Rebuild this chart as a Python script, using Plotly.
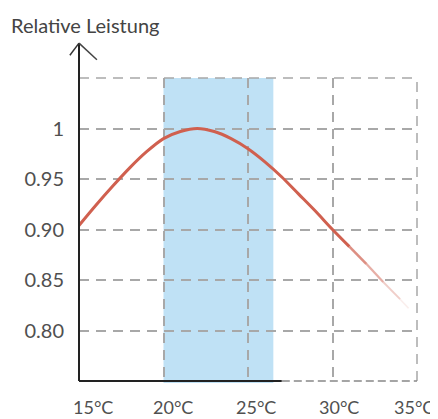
import plotly.graph_objects as go

# Data
temps = [15, 16, 17, 18, 19, 20, 21, 22, 23, 24, 25, 26, 27, 28, 29, 30, 31, 32, 33, 34, 34.5]
perf = [0.904, 0.924, 0.943, 0.961, 0.977, 0.990, 0.997, 1.0, 0.997, 0.990, 0.980, 0.967, 0.952, 0.935, 0.918, 0.900, 0.883, 0.866, 0.848, 0.831, 0.822]
band = [20, 26.5]
x_ticks = [15, 20, 25, 30, 35]
x_labels = ["15°C", "20°C", "25°C", "30°C", "35°C"]
y_ticks = [0.80, 0.85, 0.90, 0.95, 1.0]
y_labels = ["0.80", "0.85", "0.90", "0.95", "1"]
title = "Relative Leistung"

# layout-only: horizontal offsets (px) of the x tick labels, as in the hand-drawn original
x_label_shift = [14, 9, 8, 6, -3]

FONT = "Lato"
TXT = "#505050"
RED = "#d0604f"
GRID = "#a8a8a8"

fig = go.Figure()

# Curve: solid part, then fading segments
fade_start = 16  # index where fading begins
fig.add_trace(go.Scatter(x=temps[:fade_start + 1], y=perf[:fade_start + 1], mode="lines",
                         line=dict(color=RED, width=3, shape="spline", smoothing=0.8),
                         hoverinfo="skip", showlegend=False))
n_fade = len(temps) - 1 - fade_start
for k in range(n_fade):
    i = fade_start + k
    op = 0.9 - 0.8 * (k + 1) / n_fade
    fig.add_trace(go.Scatter(x=temps[i:i + 2], y=perf[i:i + 2], mode="lines",
                             line=dict(color=RED, width=2.6 - 1.4 * k / n_fade),
                             opacity=max(op, 0.1), hoverinfo="skip", showlegend=False))

shapes = []
# Comfort band
shapes.append(dict(type="rect", xref="x", yref="paper", x0=band[0], x1=band[1], y0=-0.007, y1=1.0,
                   fillcolor="#bfe1f5", line=dict(width=0), layer="below"))
# Top and right dashed borders
shapes.append(dict(type="line", xref="paper", yref="paper", x0=0, x1=1, y0=1, y1=1,
                   line=dict(color=GRID, width=1.5, dash="10px,7px"), layer="below"))
shapes.append(dict(type="line", xref="paper", yref="paper", x0=1, x1=1, y0=0, y1=1,
                   line=dict(color=GRID, width=1.5, dash="10px,7px"), layer="below"))
# x axis: solid black then dashed grey
shapes.append(dict(type="line", xref="x", yref="paper", x0=15, x1=27, y0=0, y1=0,
                   line=dict(color="#222222", width=2)))
shapes.append(dict(type="line", xref="x", yref="paper", x0=27, x1=35, y0=0, y1=0,
                   line=dict(color="#888888", width=1.5, dash="8px,4px")))
# y axis with arrow
shapes.append(dict(type="line", xref="paper", yref="paper", x0=0, x1=0, y0=0, y1=1.115,
                   line=dict(color="#222222", width=2)))
shapes.append(dict(type="line", xref="paper", yref="paper", x0=0, x1=-0.027, y0=1.115, y1=1.075,
                   line=dict(color="#333333", width=1.5)))
shapes.append(dict(type="line", xref="paper", yref="paper", x0=0, x1=0.053, y0=1.115, y1=1.06,
                   line=dict(color="#444444", width=1.5)))

annotations = [dict(text=title, xref="paper", yref="paper", x=-0.207, y=1.175,
                    xanchor="left", yanchor="middle", showarrow=False,
                    font=dict(family=FONT, size=20, color="#444444"))]
for xv, lab, dx in zip(x_ticks, x_labels, x_label_shift):
    annotations.append(dict(text=lab, xref="x", yref="paper", x=xv, y=0,
                            xanchor="center", yanchor="top", xshift=dx, yshift=-13,
                            showarrow=False, font=dict(family=FONT, size=18, color=TXT)))

# the page body has an 8px default margin, so the figure is sized to fit the window
fig.update_layout(
    width=430, height=411,
    margin=dict(l=71, r=21, t=70, b=38, autoexpand=False),
    plot_bgcolor="white", paper_bgcolor="white",
    font=dict(family=FONT, color=TXT),
    shapes=shapes,
    annotations=annotations,
    xaxis=dict(range=[15, 35.0001], tickvals=x_ticks, showticklabels=False, showline=False,
               showgrid=True, gridcolor=GRID, griddash="10px,7px", gridwidth=1.5,
               zeroline=False, ticks="", automargin=False, fixedrange=True),
    yaxis=dict(range=[0.75, 1.05], tickvals=y_ticks, ticktext=y_labels, showline=False,
               showgrid=True, gridcolor=GRID, griddash="10px,7px", gridwidth=1.5,
               zeroline=False, ticks="", tickfont=dict(size=20, color=TXT),
               ticklabelstandoff=14, automargin=False, fixedrange=True),
)

fig.write_html("out.html")
